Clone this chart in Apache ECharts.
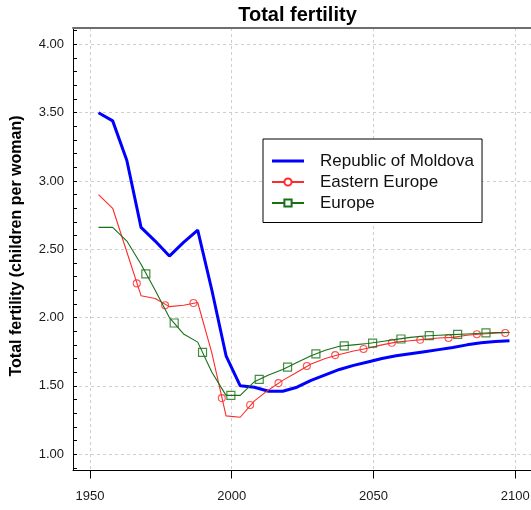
<!DOCTYPE html>
<html>
<head>
<meta charset="utf-8">
<script src="https://cdn.jsdelivr.net/npm/echarts@6/dist/echarts.min.js"></script>
<style>
html,body{margin:0;padding:0;overflow:hidden;background:#fff;}
#chart{width:540px;height:510px;}
</style>
</head>
<body>
<div id="chart"></div>
<script>
// ---- data ----
var years = [1953,1958,1963,1968,1973,1978,1983,1988,1993,1998,2003,2008,2013,2018,2023,2028,2033,2038,2043,2048,2053,2058,2063,2068,2073,2078,2083,2088,2093,2098];
var moldova = [3.50,3.44,3.15,2.66,2.56,2.45,2.55,2.64,2.20,1.72,1.50,1.49,1.46,1.46,1.49,1.54,1.58,1.62,1.65,1.675,1.70,1.72,1.735,1.75,1.765,1.78,1.80,1.815,1.825,1.83];
var easternEurope = [2.90,2.80,2.48,2.16,2.14,2.08,2.09,2.11,1.74,1.28,1.27,1.39,1.47,1.54,1.60,1.66,1.70,1.73,1.755,1.775,1.80,1.82,1.83,1.84,1.85,1.855,1.87,1.88,1.885,1.89];
var europe = [2.66,2.66,2.56,2.39,2.20,2.00,1.88,1.82,1.60,1.43,1.43,1.53,1.58,1.62,1.67,1.72,1.76,1.79,1.80,1.81,1.825,1.84,1.855,1.865,1.87,1.875,1.88,1.885,1.89,1.89];
var eeMarkerYears = [1966.5,1976.5,1986.5,1996.5,2006.5,2016.5,2026.5,2036.5,2046.5,2056.5,2066.5,2076.5,2086.5,2096.5];
var eeMarkerValues = [2.25,2.09,2.106,1.41,1.36,1.52,1.645,1.725,1.77,1.815,1.837,1.85,1.878,1.887];
var euMarkerYears = [1969.7,1979.7,1989.7,1999.7,2009.7,2019.7,2029.7,2039.7,2049.7,2059.7,2069.7,2079.7,2089.7];
var euMarkerValues = [2.32,1.96,1.745,1.43,1.547,1.637,1.734,1.793,1.813,1.843,1.867,1.877,1.887];
var xTicks = [1950,2000,2050,2100];
var yTicks = [1.0,1.5,2.0,2.5,3.0,3.5,4.0];
var yMinorTicks = [0.9,1.0,1.1,1.2,1.3,1.4,1.5,1.6,1.7,1.8,1.9,2.0,2.1,2.2,2.3,2.4,2.5,2.6,2.7,2.8,2.9,3.0,3.1,3.2,3.3,3.4,3.5,3.6,3.7,3.8,3.9,4.0,4.1];
var seriesNames = ['Republic of Moldova','Eastern Europe','Europe'];
var chartTitle = 'Total fertility';
var yTitle = 'Total fertility (children per woman)';

function pairs(xs, ys){ return xs.map(function(x,i){ return [x, ys[i]]; }); }

var FONT = 'Liberation Sans, Arial, sans-serif';
var gridLine = {show:true, lineStyle:{color:'#cfcfcf', width:1, type:[3,3]}};
var X_MIN = 1944, X_MAX = 2107, Y_MIN = 0.88, Y_MAX = 4.12;

var chart = echarts.init(document.getElementById('chart'), null, {renderer:'canvas'});
chart.setOption({
  animation:false,
  backgroundColor:'#ffffff',
  grid:{left:73, top:28, width:462, height:442.5, containLabel:false},
  graphic:[
    {type:'text', x:297.5, y:15, style:{text:chartTitle, font:'bold 20px ' + FONT, fill:'#000', textAlign:'center', textVerticalAlign:'middle'}},
    {type:'text', x:17, y:246, rotation:Math.PI/2, style:{text:yTitle, font:'bold 16px ' + FONT, fill:'#000', textAlign:'center', textVerticalAlign:'middle'}}
  ],
  legend:{
    orient:'vertical', left:263, top:139, padding:[11.5,8,9,8], itemGap:0,
    itemWidth:32, itemHeight:9, borderColor:'#000', borderWidth:1, backgroundColor:'#fff',
    textStyle:{fontSize:17, fontFamily:FONT, color:'#111', lineHeight:21, padding:[0,0,0,11]},
    data:[
      {name:seriesNames[0], icon:'path://M0,0H32V3H0Z', itemStyle:{borderWidth:0}},
      {name:seriesNames[1]},
      {name:seriesNames[2]}
    ]
  },
  xAxis:[
    {type:'value', position:'bottom', min:X_MIN, max:X_MAX,
     axisLine:{show:true, onZero:false, lineStyle:{color:'#000', width:1}},
     axisTick:{show:true, inside:false, length:8, customValues:xTicks, lineStyle:{color:'#000'}},
     axisLabel:{show:true, customValues:xTicks, margin:19, fontSize:13, fontFamily:FONT, color:'#1a1a1a',
       formatter:function(v){ return String(v); }},
     splitLine:gridLine},
    {type:'value', position:'top', min:X_MIN, max:X_MAX,
     axisLine:{show:true, onZero:false, lineStyle:{color:'#6e6e6e', width:2}},
     axisTick:{show:false}, axisLabel:{show:false}, splitLine:{show:false}}
  ],
  yAxis:[
    {type:'value', position:'left', min:Y_MIN, max:Y_MAX,
     axisLine:{show:true, onZero:false, lineStyle:{color:'#000', width:1}},
     axisTick:{show:false, customValues:yTicks},
     axisLabel:{show:true, customValues:yTicks, margin:9, fontSize:13, fontFamily:FONT, color:'#1a1a1a',
       formatter:function(v){ return v.toFixed(2); }},
     splitLine:gridLine},
    {type:'value', position:'left', min:Y_MIN, max:Y_MAX,
     axisLine:{show:false},
     axisTick:{show:true, inside:true, length:4, customValues:yMinorTicks, lineStyle:{color:'#000'}},
     axisLabel:{show:false}, splitLine:{show:false}}
  ],
  series:[
    {name:seriesNames[0], type:'line', data:pairs(years, moldova), symbol:'none', showSymbol:false,
     lineStyle:{color:'#0000ff', width:3}, itemStyle:{color:'#0000ff'}, z:3},
    {name:seriesNames[1], type:'line', data:pairs(years, easternEurope), symbol:'emptyCircle', symbolSize:7, showSymbol:false,
     lineStyle:{color:'#ff2a2a', width:1.1}, itemStyle:{color:'#ff2a2a', borderColor:'#ff2a2a', borderWidth:1}, z:4},
    {name:seriesNames[1], type:'scatter', data:pairs(eeMarkerYears, eeMarkerValues), symbol:'circle', symbolSize:7,
     itemStyle:{color:'rgba(0,0,0,0)', borderColor:'#ff2a2a', borderWidth:1.1}, z:4},
    {name:seriesNames[2], type:'line', data:pairs(years, europe), symbol:'emptyRect', symbolSize:8, showSymbol:false,
     lineStyle:{color:'#167016', width:1.1}, itemStyle:{color:'#167016', borderColor:'#167016', borderWidth:1}, z:5},
    {name:seriesNames[2], type:'scatter', data:pairs(euMarkerYears, euMarkerValues), symbol:'rect', symbolSize:8,
     itemStyle:{color:'rgba(0,0,0,0)', borderColor:'#167016', borderWidth:1.2}, z:5}
  ]
});
</script>
</body>
</html>
